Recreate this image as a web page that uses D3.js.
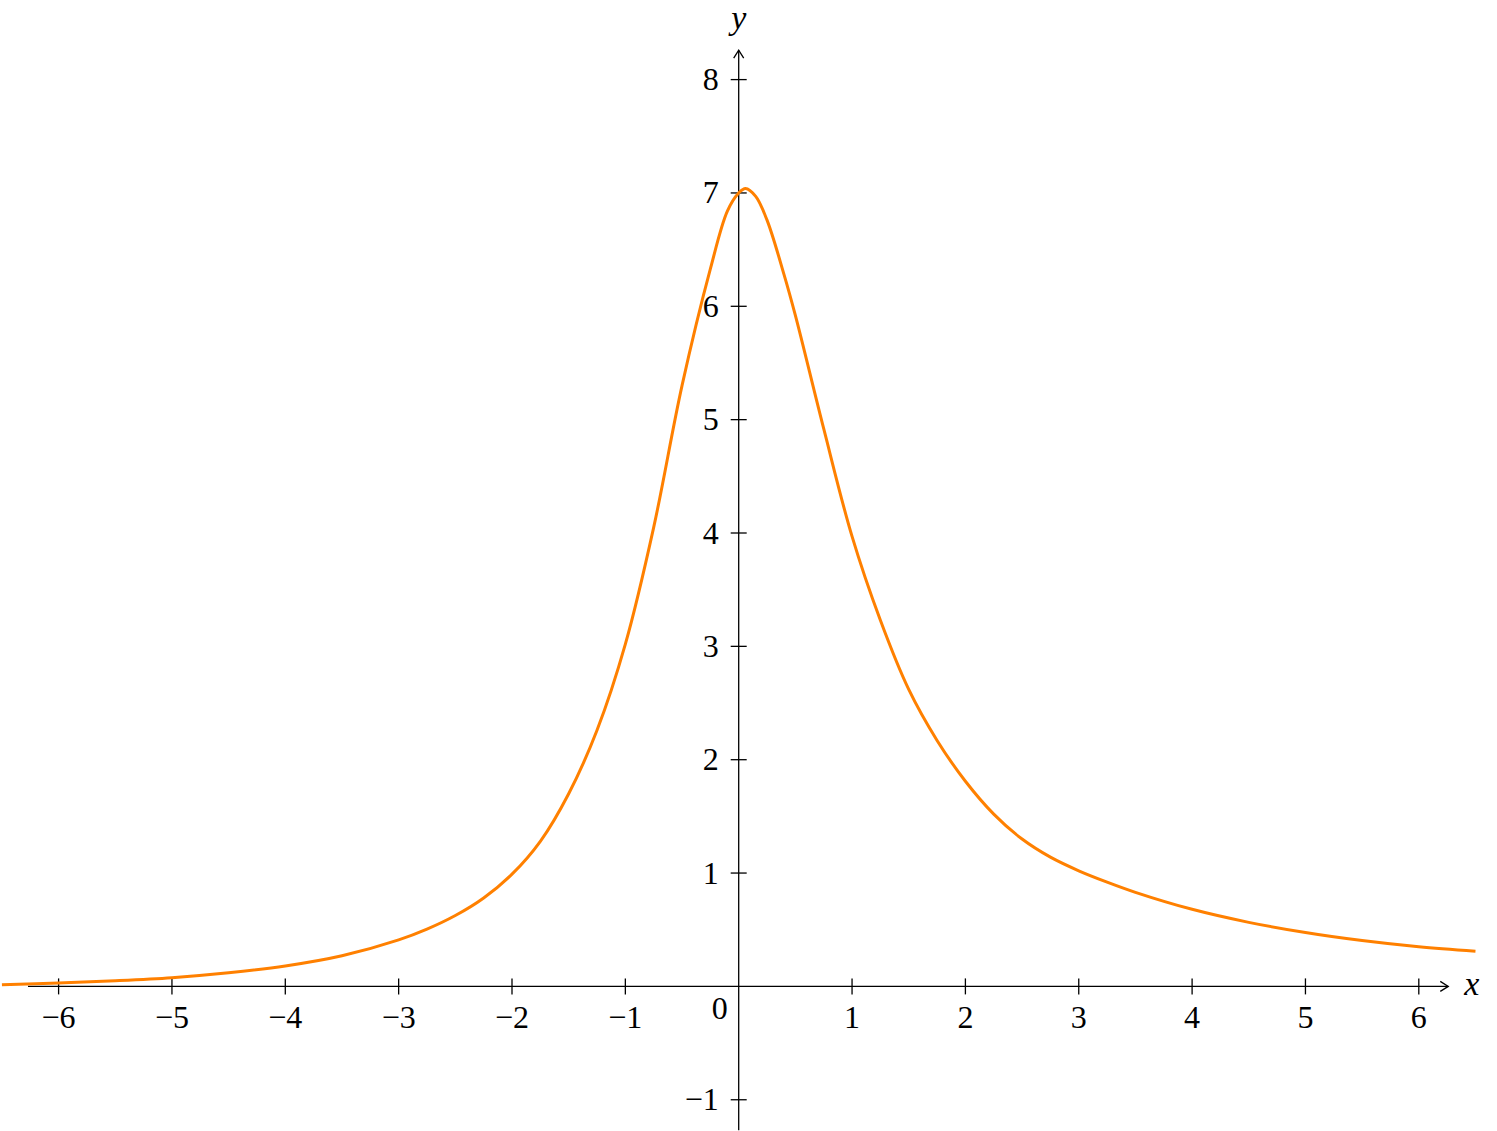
<!DOCTYPE html>
<html>
<head>
<meta charset="utf-8">
<script src="https://cdn.jsdelivr.net/npm/d3@7"></script>
<style>
  body { margin: 0; background: #fff; }
</style>
</head>
<body>
<div id="chart"></div>
<script>
// Curve samples
const xs = [-6.5, -6, -5.5, -5, -4.5, -4, -3.5, -3, -2.75, -2.5, -2.25, -2, -1.75, -1.5, -1.25, -1, -0.75, -0.5, -0.25, -0.1, 0, 0.06, 0.15, 0.25, 0.4, 0.5, 0.75, 1, 1.25, 1.5, 1.75, 2, 2.25, 2.5, 2.75, 3, 3.25, 3.5, 4, 4.5, 5, 5.5, 6, 6.5];
const ys = [0.015, 0.03, 0.05, 0.077, 0.12, 0.18, 0.27, 0.41, 0.505, 0.625, 0.78, 0.99, 1.28, 1.70, 2.26, 3.02, 4.05, 5.30, 6.33, 6.84, 7.00, 7.04, 6.97, 6.76, 6.28, 5.92, 4.92, 3.97, 3.23, 2.62, 2.17, 1.81, 1.52, 1.30, 1.14, 1.02, 0.92, 0.83, 0.68, 0.565, 0.475, 0.405, 0.35, 0.31];
const xTicks = [-6, -5, -4, -3, -2, -1, 1, 2, 3, 4, 5, 6];
const yTicks = [-1, 1, 2, 3, 4, 5, 6, 7, 8];

const width = 1497, height = 1131;
const serif = "'Liberation Serif'";
const svg = d3.select('#chart').append('svg')
    .attr('width', width)
    .attr('height', height)
    .attr('font-family', serif);

const x = d3.scaleLinear().domain([-6, 6]).range([58.6, 1418.8]);
const y = d3.scaleLinear().domain([0, 8]).range([986.4, 79.6]);

const fmt = v => (v < 0 ? '\u2212' + Math.abs(v) : String(v));
const axisColor = '#000';

// x axis line with open arrow
svg.append('line')
    .attr('x1', x(-6.27)).attr('x2', x(6.26))
    .attr('y1', y(0)).attr('y2', y(0))
    .attr('stroke', axisColor).attr('stroke-width', 1.3);
svg.append('path')
    .attr('d', `M${x(6.26) - 8},${y(0) - 5} L${x(6.26)},${y(0)} L${x(6.26) - 8},${y(0) + 5}`)
    .attr('fill', 'none').attr('stroke', axisColor).attr('stroke-width', 1.3);

// y axis line with open arrow
svg.append('line')
    .attr('x1', x(0)).attr('x2', x(0))
    .attr('y1', y(-1.27)).attr('y2', y(8.26))
    .attr('stroke', axisColor).attr('stroke-width', 1.3);
svg.append('path')
    .attr('d', `M${x(0) - 5},${y(8.26) + 8} L${x(0)},${y(8.26)} L${x(0) + 5},${y(8.26) + 8}`)
    .attr('fill', 'none').attr('stroke', axisColor).attr('stroke-width', 1.3);

// x ticks
svg.selectAll('.xtick').data(xTicks).enter().append('line')
    .attr('x1', d => x(d)).attr('x2', d => x(d))
    .attr('y1', y(0) - 8).attr('y2', y(0) + 8)
    .attr('stroke', axisColor).attr('stroke-width', 1.3);
svg.selectAll('.xlabel').data(xTicks).enter().append('text')
    .attr('x', d => x(d))
    .attr('y', y(0) + 42)
    .attr('text-anchor', 'middle')
    .attr('font-family', serif)
    .attr('font-size', 32)
    .text(fmt);

// y ticks
svg.selectAll('.ytick').data(yTicks).enter().append('line')
    .attr('x1', x(0) - 8).attr('x2', x(0) + 8)
    .attr('y1', d => y(d)).attr('y2', d => y(d))
    .attr('stroke', axisColor).attr('stroke-width', 1.3);
svg.selectAll('.ylabel').data(yTicks).enter().append('text')
    .attr('x', x(0) - 20)
    .attr('y', d => y(d) + 10.5)
    .attr('text-anchor', 'end')
    .attr('font-family', serif)
    .attr('font-size', 32)
    .text(fmt);

// origin label
svg.append('text')
    .attr('x', x(0) - 19).attr('y', y(0) + 33)
    .attr('text-anchor', 'middle')
    .attr('font-family', serif)
    .attr('font-size', 32)
    .text('0');

// axis names
svg.append('text')
    .attr('x', x(6.26) + 16).attr('y', y(0) + 9)
    .attr('font-family', serif)
    .attr('font-size', 34).attr('font-style', 'italic')
    .text('x');
svg.append('text')
    .attr('x', x(0)).attr('y', 29)
    .attr('text-anchor', 'middle')
    .attr('font-family', serif)
    .attr('font-size', 34).attr('font-style', 'italic')
    .text('y');

// curve
const line = d3.line()
    .x((d, i) => x(xs[i]))
    .y((d, i) => y(ys[i]))
    .curve(d3.curveCatmullRom.alpha(0.5));
svg.append('path')
    .datum(xs)
    .attr('d', line)
    .attr('fill', 'none')
    .attr('stroke', '#ff8000')
    .attr('stroke-width', 3)
    .attr('stroke-linejoin', 'round');
</script>
</body>
</html>
